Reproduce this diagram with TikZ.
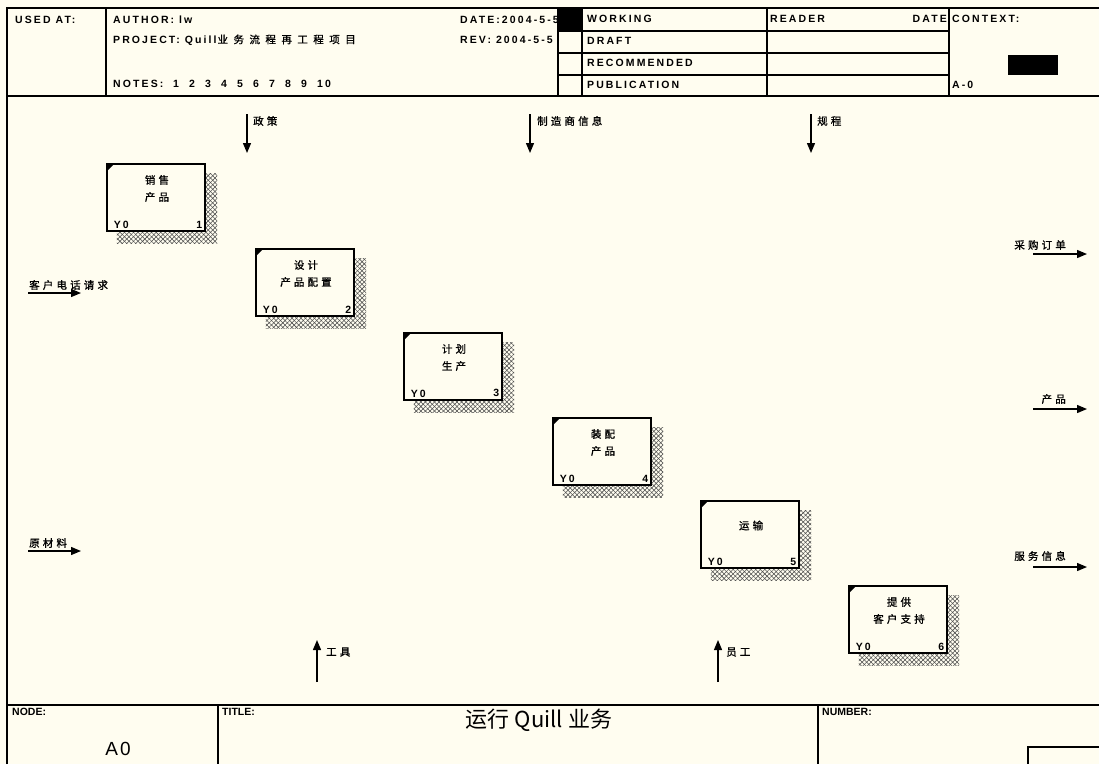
\documentclass[tikz,border=0pt]{standalone}
\usepackage{fontspec}
\setmainfont{Liberation Sans}
\newfontfamily\cjk{Noto Sans CJK SC}
\newfontfamily\hdfont[LetterSpace=20]{Liberation Sans Bold}
\newfontfamily\smfont{Liberation Sans Bold}
\newfontfamily\cjkl[LetterSpace=30,FakeBold=1]{Noto Sans CJK SC}
\newfontfamily\cjkp[LetterSpace=52,FakeBold=1]{Noto Sans CJK SC}
\usetikzlibrary{arrows.meta,patterns.meta}
\definecolor{paper}{RGB}{255,253,240}
\tikzset{
  frame/.style={line width=2pt},
  thin rule/.style={line width=1.3pt},
  hdr/.style={inner sep=0pt, anchor=west, font=\hdfont\fontsize{10.5}{12}\selectfont},
  small hdr/.style={inner sep=0pt, anchor=north west, font=\smfont\fontsize{10.5}{12}\selectfont},
  actbox/.style={draw, line width=2.6pt, fill=paper, minimum width=98pt, minimum height=67pt, inner sep=0pt},
  shadowbox/.style={draw=none, minimum width=100pt, minimum height=69pt, inner sep=0pt},
  hatchA/.style={pattern={Lines[angle=45,distance=3.2pt,line width=0.55pt]}, pattern color=black!70},
  hatchB/.style={pattern={Lines[angle=-45,distance=3.2pt,line width=0.55pt]}, pattern color=black!70},
  boxtxt/.style={align=center, inner sep=0pt, font=\cjkl\fontsize{10.5}{17}\selectfont},
  boxtag/.style={inner sep=0pt, font=\hdfont\fontsize{10.5}{12}\selectfont},
  lbl/.style={inner sep=0pt, font=\cjkl\fontsize{10.5}{12}\selectfont},
  arr/.style={line width=1.3pt, -{Triangle[length=10pt,width=8pt]}}
}
\begin{document}
\begin{tikzpicture}[x=1pt,y=-1pt]
\useasboundingbox (0,0) rectangle (1099,764);
\fill[paper] (0,0) rectangle (1099,764);

% ---------- header ----------
\draw[frame] (7,764) -- (7,8) -- (1099,8);
\draw[frame] (7,96) -- (1099,96);
\draw[thin rule] (106,8) -- (106,96);
\draw[thin rule] (558,8) -- (558,96);
\draw[thin rule] (582,8) -- (582,96);
\draw[thin rule] (767,8) -- (767,96);
\draw[thin rule] (949,8) -- (949,96);
\foreach \yy in {31,53,75} \draw[thin rule] (558,\yy) -- (949,\yy);

\node[hdr] (usedat) at (15,20) {USED AT:};
\node[hdr] (author) at (113,20) {AUTHOR: lw};
\node[hdr] (project) at (113,40) {PROJECT: Quill\hspace{1pt}{\cjkp\fontsize{10.5}{12}\selectfont 业务流程再工程项目}};
\node[hdr] (notes) at (113,84) {NOTES:};
\foreach \d [count=\i] in {1,2,3,4,5,6,7,8,9,10}
  \node[hdr] (note\i) at (173+16*\i-16,84) {\d};
\node[hdr] (date) at (460,20) {DATE:2004-5-5};
\node[hdr] (rev) at (460,40) {REV: 2004-5-5};
\fill (558,8) rectangle (582,31);
\node[hdr] (working) at (587,19) {WORKING};
\node[hdr] (draft) at (587,41) {DRAFT};
\node[hdr] (recom) at (587,63) {RECOMMENDED};
\node[hdr] (publ) at (587,85) {PUBLICATION};
\node[hdr] (reader) at (770,19) {READER};
\node[hdr, anchor=east] (rdate) at (947,19) {DATE};
\node[hdr] (context) at (952,19) {CONTEXT:};
\node[hdr] (actx) at (952,85) {A-0};
\fill (1008,55) rectangle (1058,75);

% ---------- footer ----------
\draw[frame] (7,705) -- (1099,705);
\draw[thin rule] (218,705) -- (218,764);
\draw[thin rule] (818,705) -- (818,764);
\node[small hdr] (nodel) at (12,708) {NODE:};
\node[small hdr] (titlel) at (222,708) {TITLE:};
\node[small hdr] (numl) at (822,708) {NUMBER:};
\node[inner sep=0pt, font=\fontsize{19}{22}\selectfont] (nodeno) at (118,749) {A\hspace{2pt}0};
\node[inner sep=0pt, font=\cjk\fontsize{22}{26}\selectfont] (title) at (539,720) {运行 Quill 业务};
\draw[thin rule] (1099,747) -- (1028,747) -- (1028,764);

% ---------- activity boxes ----------
\foreach \n/\cx/\cy/\txt in {
  1/156/197.5/{销售\\产品},
  2/305/282.5/{设计\\产品配置},
  3/453/366.5/{计划\\生产},
  4/602/451.5/{装配\\产品},
  5/750/534.5/{运输},
  6/898/619.5/{提供\\客户支持}}{
  \node[shadowbox] (s\n) at (\cx+11,\cy+11) {};
  \fill[hatchA] (s\n.north west) rectangle (s\n.south east);
  \fill[hatchB] (s\n.north west) rectangle (s\n.south east);
  \node[actbox] (b\n) at (\cx,\cy) {};
  \fill ([shift={(1.3,1.3)}]b\n.north west) -- ++(7,0) -- ++(-7,7) -- cycle;
  \node[boxtxt] (t\n) at (\cx+1,\cy-9) {\txt};
  \node[boxtag, anchor=south west] (y\n) at ([shift={(8,-4)}]b\n.south west) {Y\hspace{2pt}0};
  \node[boxtag, anchor=south east] (n\n) at ([shift={(-4,-4)}]b\n.south east) {\n};
}

% ---------- controls (top) ----------
\coordinate (c1a) at (247,114); \coordinate (c1b) at (247,153);
\coordinate (c2a) at (530,114); \coordinate (c2b) at (530,153);
\coordinate (c3a) at (811,114); \coordinate (c3b) at (811,153);
\draw[arr] (c1a) -- (c1b);
\draw[arr] (c2a) -- (c2b);
\draw[arr] (c3a) -- (c3b);
\node[lbl, anchor=west] (c1l) at (253,121) {政策};
\node[lbl, anchor=west] (c2l) at (537,121) {制造商信息};
\node[lbl, anchor=west] (c3l) at (817,121) {规程};

% ---------- inputs (left) ----------
\coordinate (i1a) at (28,293); \coordinate (i1b) at (81,293);
\coordinate (i2a) at (28,551); \coordinate (i2b) at (81,551);
\draw[arr] (i1a) -- (i1b);
\draw[arr] (i2a) -- (i2b);
\node[lbl, anchor=west] (i1l) at (29,285) {客户电话请求};
\node[lbl, anchor=west] (i2l) at (29,543) {原材料};

% ---------- outputs (right) ----------
\coordinate (o1a) at (1033,254); \coordinate (o1b) at (1087,254);
\coordinate (o2a) at (1033,409); \coordinate (o2b) at (1087,409);
\coordinate (o3a) at (1033,567); \coordinate (o3b) at (1087,567);
\draw[arr] (o1a) -- (o1b);
\draw[arr] (o2a) -- (o2b);
\draw[arr] (o3a) -- (o3b);
\node[lbl, anchor=east] (o1l) at (1066,245) {采购订单};
\node[lbl, anchor=east] (o2l) at (1066,399) {产品};
\node[lbl, anchor=east] (o3l) at (1066,556) {服务信息};

% ---------- mechanisms (bottom) ----------
\coordinate (m1a) at (317,682); \coordinate (m1b) at (317,640);
\coordinate (m2a) at (718,682); \coordinate (m2b) at (718,640);
\draw[arr] (m1a) -- (m1b);
\draw[arr] (m2a) -- (m2b);
\node[lbl, anchor=west] (m1l) at (326,652) {工具};
\node[lbl, anchor=west] (m2l) at (726,652) {员工};
\end{tikzpicture}
\end{document}
